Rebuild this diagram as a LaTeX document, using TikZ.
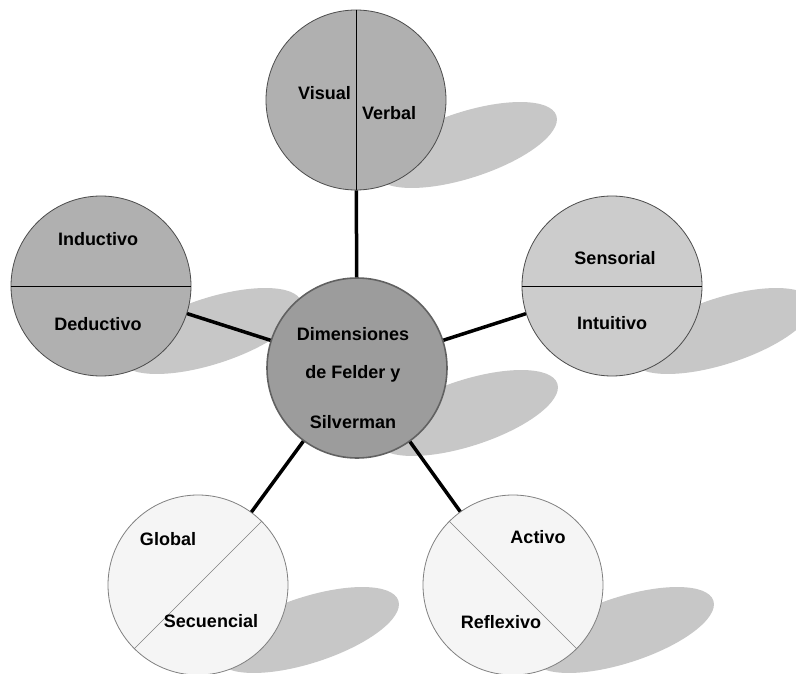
\documentclass[tikz,border=0pt]{standalone}
\usepackage{fontspec}
\setmainfont{Liberation Sans}
\usetikzlibrary{calc}

\begin{document}
\begin{tikzpicture}[x=1pt,y=-1pt,
		dim/.style={circle,draw=black!70,line width=0.8pt,minimum size=180pt,inner sep=0pt},
		sombra/.style={fill=black!22},
		txt/.style={font=\fontsize{18}{21}\selectfont\bfseries,inner sep=1pt},
		lado/.style={line width=0.7pt},
		enlace/.style={line width=3.5pt}]
	\useasboundingbox[fill=white] (0,0) rectangle (796,674);
	\coordinate (cvv) at (356,100);
	\coordinate (cid) at (101,286);
	\coordinate (csi) at (612,286);
	\coordinate (cfs) at (357,368);
	\coordinate (cgs) at (198,585);
	\coordinate (car) at (513,585);
	\foreach \c in {cvv,cid,csi,cfs,cgs,car}
	{\fill[sombra,shift={($(\c)+(110,45)$)},rotate=18] (0,0) ellipse [x radius=95pt,y radius=33pt];}
	\node[dim,fill=black!31] (vv) at (cvv) {};
	\node[dim,fill=black!31] (id) at (cid) {};
	\node[dim,fill=black!20] (si) at (csi) {};
	\node[dim,fill=black!4,draw=black!50] (gs) at (cgs) {};
	\node[dim,fill=black!4,draw=black!50] (ar) at (car) {};
	\node[dim,fill=black!39,draw=black!62,line width=1.6pt] (fs) at (cfs) {};
	\draw[lado] (vv.north) -- (vv.south);
	\draw[lado] (id.west) -- (id.east);
	\draw[lado] (si.west) -- (si.east);
	\draw[lado,black!50] (gs.45) -- (gs.225);
	\draw[lado,black!50] (ar.135) -- (ar.-45);
	\foreach \n in {vv,id,si,gs,ar}
	{\draw[enlace] (fs) -- (\n);}
	\node[txt,anchor=east] (visual) at ([shift={(-4,-7)}]vv.center) {Visual};
	\node[txt,anchor=west] (verbal) at ([shift={(5,13)}]vv.center) {Verbal};
	\node[txt] (inductivo) at ([shift={(-3,-47)}]id.center) {Inductivo};
	\node[txt] (deductivo) at ([shift={(-3,38)}]id.center) {Deductivo};
	\node[txt] (sensorial) at ([shift={(3,-28)}]si.center) {Sensorial};
	\node[txt] (intuitivo) at ([shift={(0,37)}]si.center) {Intuitivo};
	\node[txt] (global) at ([shift={(-30,-46)}]gs.center) {Global};
	\node[txt] (secuencial) at ([shift={(13,36)}]gs.center) {Secuencial};
	\node[txt] (activo) at ([shift={(25,-48)}]ar.center) {Activo};
	\node[txt] (reflexivo) at ([shift={(-12,37)}]ar.center) {Reflexivo};
	\node[txt,align=center] (titulo) at ([shift={(-4,10)}]fs.center)
		{Dimensiones\\[17pt]de Felder y\\[29pt]Silverman};
\end{tikzpicture}
\end{document}
